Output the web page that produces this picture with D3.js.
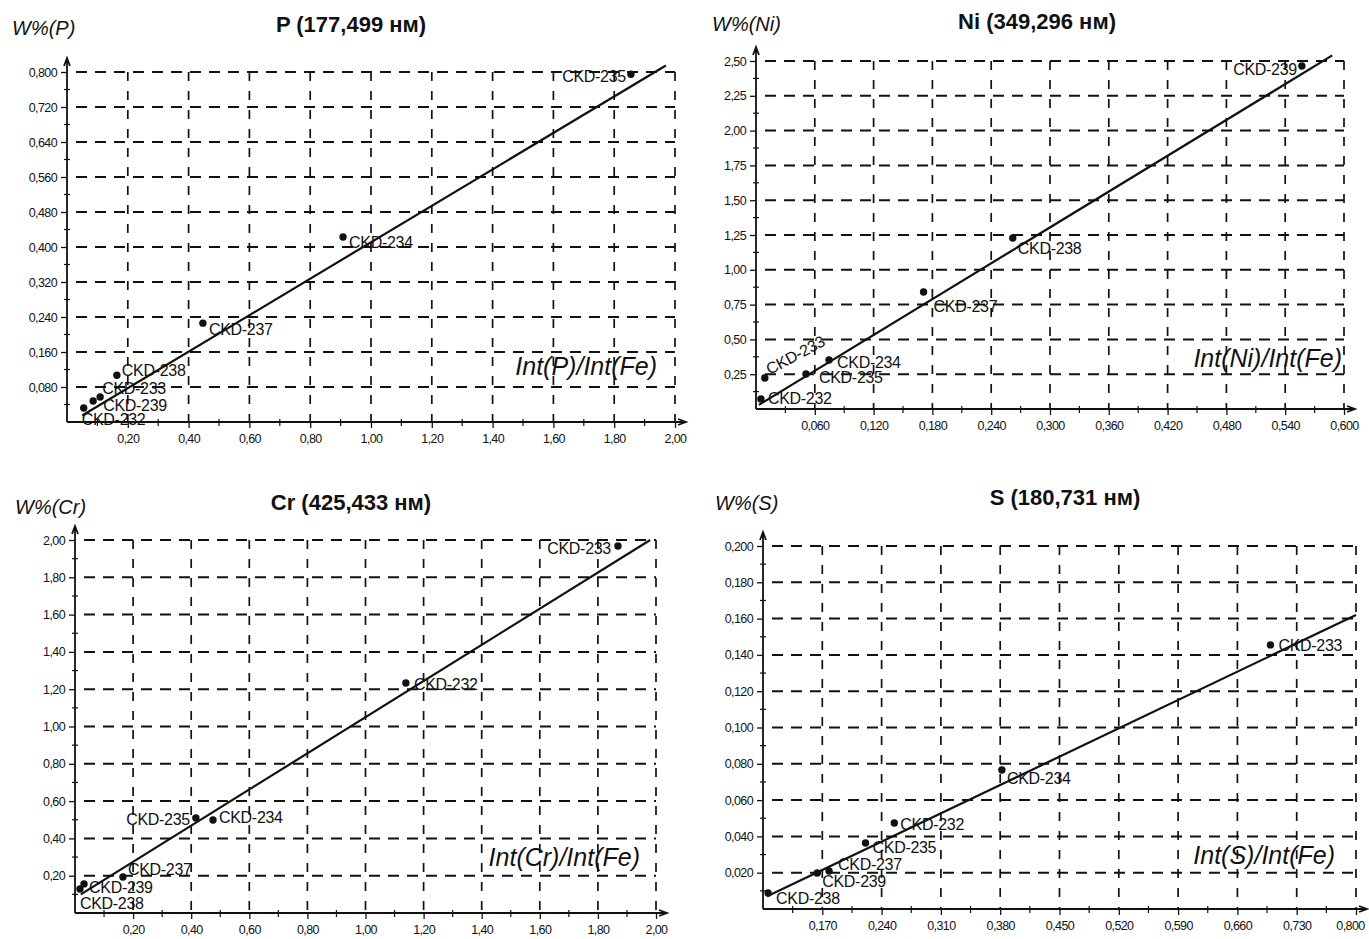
<!DOCTYPE html>
<html><head><meta charset="utf-8">
<script src="https://cdn.jsdelivr.net/npm/d3@7"></script>
<style>
html,body{margin:0;padding:0;background:#fff;}
svg text{font-family:"Liberation Sans",Arial,sans-serif;fill:#111;}
</style></head>
<body><svg id="c" width="1369" height="939"></svg>
<script>
// ---------------- DATA ----------------
// P (177,499 нм)
const samplesP = ["CKD-235","CKD-234","CKD-237","CKD-238","CKD-233","CKD-239","CKD-232"];
const xP = [1.855, 0.908, 0.447, 0.164, 0.109, 0.086, 0.055];
const yP = [0.795, 0.423, 0.226, 0.107, 0.057, 0.048, 0.032];
const fitP = [[0.05, 0.015], [1.97, 0.815]];
const xTicksP = [0.2,0.4,0.6,0.8,1.0,1.2,1.4,1.6,1.8,2.0];
const yTicksP = [0.08,0.16,0.24,0.32,0.40,0.48,0.56,0.64,0.72,0.80];

// Ni (349,296 нм)
const samplesNi = ["CKD-239","CKD-238","CKD-237","CKD-234","CKD-235","CKD-233","CKD-232"];
const xNi = [0.557, 0.262, 0.171, 0.0745, 0.051, 0.009, 0.005];
const yNi = [2.464, 1.228, 0.840, 0.352, 0.251, 0.223, 0.072];
const fitNi = [[0.003, 0.03], [0.588, 2.54]];
const xTicksNi = [0.06,0.12,0.18,0.24,0.30,0.36,0.42,0.48,0.54,0.60];
const yTicksNi = [0.25,0.50,0.75,1.00,1.25,1.50,1.75,2.00,2.25,2.50];

// Cr (425,433 нм)
const samplesCr = ["CKD-233","CKD-232","CKD-235","CKD-234","CKD-237","CKD-239","CKD-238"];
const xCr = [1.869, 1.139, 0.416, 0.475, 0.165, 0.031, 0.017];
const yCr = [1.968, 1.233, 0.509, 0.499, 0.193, 0.156, 0.129];
const fitCr = [[0.02, 0.10], [1.98, 2.00]];
const xTicksCr = [0.2,0.4,0.6,0.8,1.0,1.2,1.4,1.6,1.8,2.0];
const yTicksCr = [0.2,0.4,0.6,0.8,1.0,1.2,1.4,1.6,1.8,2.0];

// S (180,731 нм)
const samplesS = ["CKD-233","CKD-234","CKD-232","CKD-235","CKD-237","CKD-239","CKD-238"];
const xS = [0.699, 0.382, 0.255, 0.221, 0.178, 0.164, 0.106];
const yS = [0.1455, 0.0766, 0.0474, 0.0364, 0.0209, 0.0198, 0.0088];
const fitS = [[0.105, 0.007], [0.80, 0.162]];
const xTicksS = [0.17,0.24,0.31,0.38,0.45,0.52,0.59,0.66,0.73,0.80];
const yTicksS = [0.02,0.04,0.06,0.08,0.10,0.12,0.14,0.16,0.18,0.20];

const titles = ["P (177,499 нм)","Ni (349,296 нм)","Cr (425,433 нм)","S (180,731 нм)"];
const yTitles = ["W%(P)","W%(Ni)","W%(Cr)","W%(S)"];
const xTitles = ["Int(P)/Int(Fe)","Int(Ni)/Int(Fe)","Int(Cr)/Int(Fe)","Int(S)/Int(Fe)"];

// ---------------- LAYOUT ----------------
const panels = [
 {samples:samplesP,xs:xP,ys:yP,fit:fitP,xt:xTicksP,yt:yTicksP,xdom:[0,2.0],ydom:[0,0.8],xdec:2,ydec:3,
  px:[67,675],py:[422,72],title:[351,32],ylab:[12,35],xlab:[657,375],lastShift:0,
  lab:{"CKD-235":[-5,8,"end"],"CKD-234":[6,11,"start"],"CKD-237":[6,12,"start"],"CKD-238":[5,1,"start"],
       "CKD-233":[2,-3,"start"],"CKD-239":[10,10,"start"],"CKD-232":[-2,17,"start"]}},
 {samples:samplesNi,xs:xNi,ys:yNi,fit:fitNi,xt:xTicksNi,yt:yTicksNi,xdom:[0,0.6],ydom:[0,2.5],xdec:3,ydec:2,
  px:[756,1344],py:[409,61],title:[1037,29],ylab:[712,31],xlab:[1342,367],lastShift:0,
  lab:{"CKD-239":[-5,9,"end"],"CKD-238":[5,16,"start"],"CKD-237":[10,20,"start"],"CKD-234":[8,8,"start"],
       "CKD-235":[13,9,"start"],"CKD-233":[5,-3,"start",-28],"CKD-232":[7,5,"start"]}},
 {samples:samplesCr,xs:xCr,ys:yCr,fit:fitCr,xt:xTicksCr,yt:yTicksCr,xdom:[0,2.0],ydom:[0,2.0],xdec:2,ydec:2,
  px:[75,656],py:[913,540],title:[351,510],ylab:[15,514],xlab:[640,866],lastShift:0,
  lab:{"CKD-233":[-7,8,"end"],"CKD-232":[8,7,"start"],"CKD-235":[-6,7,"end"],"CKD-234":[6,3,"start"],
       "CKD-237":[5,-2,"start"],"CKD-239":[5,9,"start"],"CKD-238":[0,20,"start"]}},
 {samples:samplesS,xs:xS,ys:yS,fit:fitS,xt:xTicksS,yt:yTicksS,xdom:[0.1,0.8],ydom:[0,0.2],xdec:3,ydec:3,
  px:[763,1356],py:[909,546],title:[1065,505],ylab:[715,510],xlab:[1335,864],lastShift:-6,
  lab:{"CKD-233":[8,6,"start"],"CKD-234":[5,14,"start"],"CKD-232":[6,7,"start"],"CKD-235":[7,10,"start"],
       "CKD-237":[9,-1,"start"],"CKD-239":[5,14,"start"],"CKD-238":[8,11,"start"]}}
];

const svg = d3.select("#c");
const fmt = dec => v => v.toFixed(dec).replace(".", ",");

panels.forEach((p, i) => {
  const x = d3.scaleLinear().domain(p.xdom).range(p.px);
  const y = d3.scaleLinear().domain(p.ydom).range(p.py);
  const g = svg.append("g");
  const X0 = p.px[0], X1 = p.px[1], Y0 = p.py[0], Y1 = p.py[1];

  // grid
  g.append("g").selectAll("line").data(p.yt).join("line")
    .attr("x1", X0 + 9).attr("x2", X1).attr("y1", d => y(d)).attr("y2", d => y(d))
    .attr("stroke", "#111").attr("stroke-width", 2).attr("stroke-dasharray", "11,8");
  g.append("g").selectAll("line").data(p.xt).join("line")
    .attr("x1", d => x(d)).attr("x2", d => x(d)).attr("y1", Y1).attr("y2", Y0)
    .attr("stroke", "#111").attr("stroke-width", 1.7).attr("stroke-dasharray", "9,10");

  // axes with ticks & labels
  const yAxis = d3.axisLeft(y).tickValues(p.yt).tickFormat(fmt(p.ydec)).tickSize(6).tickPadding(4);
  const xAxis = d3.axisBottom(x).tickValues(p.xt).tickFormat(fmt(p.xdec)).tickSize(6).tickPadding(6);
  const ya = g.append("g").attr("transform", `translate(${X0},0)`).call(yAxis);
  const xa = g.append("g").attr("transform", `translate(0,${Y0})`).call(xAxis);
  [ya, xa].forEach(a => {
    a.select(".domain").remove();
    a.selectAll("line").attr("stroke", "#111").attr("stroke-width", 1.3);
    a.selectAll("text").attr("font-size", 12.5).attr("letter-spacing", "-0.6").attr("fill", "#1a1a1a");
  });
  xa.selectAll(".tick:last-of-type text").attr("dx", p.lastShift);

  // minor ticks
  const ymin = [p.ydom[0]].concat(p.yt).slice(0, -1).map((v, k) => (v + p.yt[k]) / 2);
  const xmin = [p.xdom[0]].concat(p.xt).slice(0, -1).map((v, k) => (v + p.xt[k]) / 2);
  g.append("g").selectAll("line").data(ymin).join("line")
    .attr("x1", X0 - 3).attr("x2", X0 + 3).attr("y1", d => y(d)).attr("y2", d => y(d))
    .attr("stroke", "#111").attr("stroke-width", 1.2);
  g.append("g").selectAll("line").data(xmin).join("line")
    .attr("y1", Y0 - 3).attr("y2", Y0 + 4).attr("x1", d => x(d)).attr("x2", d => x(d))
    .attr("stroke", "#111").attr("stroke-width", 1.2);

  // axis lines with arrows
  const yTop = Y1 - 14, xEnd = X1 + 11;
  g.append("path").attr("d", `M${X0},${Y0}V${yTop}M${X0-3},${yTop+8}L${X0},${yTop}L${X0+3},${yTop+8}`)
    .attr("fill", "none").attr("stroke", "#111").attr("stroke-width", 1.8);
  g.append("path").attr("d", `M${X0},${Y0}H${xEnd}M${xEnd-8},${Y0-3}L${xEnd},${Y0}L${xEnd-8},${Y0+3}`)
    .attr("fill", "none").attr("stroke", "#111").attr("stroke-width", 1.8);

  // fit line
  g.append("line")
    .attr("x1", x(p.fit[0][0])).attr("y1", y(p.fit[0][1]))
    .attr("x2", x(p.fit[1][0])).attr("y2", y(p.fit[1][1]))
    .attr("stroke", "#111").attr("stroke-width", 2.2);

  // points
  const pts = p.samples.map((s, k) => ({s, vx: p.xs[k], vy: p.ys[k]}));
  g.append("g").selectAll("circle").data(pts).join("circle")
    .attr("cx", d => x(d.vx)).attr("cy", d => y(d.vy)).attr("r", 3.7).attr("fill", "#111");
  g.append("g").selectAll("text").data(pts).join("text")
    .attr("font-size", 16).attr("letter-spacing", "-0.3")
    .attr("text-anchor", d => p.lab[d.s][2])
    .attr("transform", d => {
      const o = p.lab[d.s];
      return `translate(${x(d.vx) + o[0]},${y(d.vy) + o[1]}) rotate(${o[3] || 0})`;
    })
    .text(d => d.s);

  // titles
  g.append("text").attr("x", p.title[0]).attr("y", p.title[1]).attr("text-anchor", "middle")
    .attr("font-size", 22).attr("font-weight", "bold").text(titles[i]);
  g.append("text").attr("x", p.ylab[0]).attr("y", p.ylab[1])
    .attr("font-size", 20).attr("font-style", "italic").text(yTitles[i]);
  g.append("text").attr("x", p.xlab[0]).attr("y", p.xlab[1]).attr("text-anchor", "end")
    .attr("font-size", 25).attr("font-style", "italic").text(xTitles[i]);
});
</script></body></html>
